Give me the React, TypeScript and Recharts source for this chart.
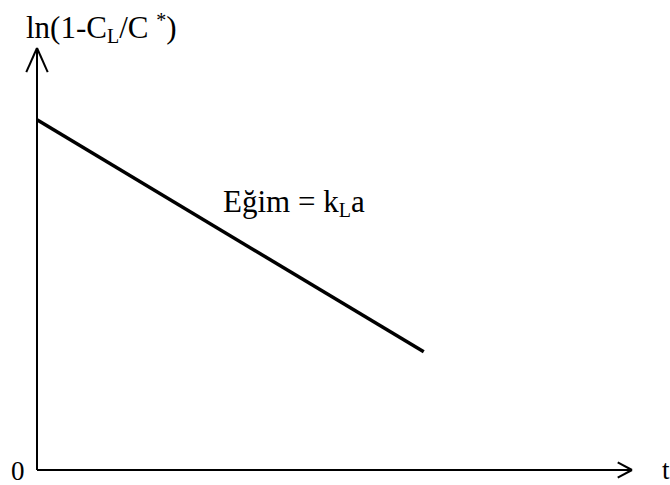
import { LineChart, Line, XAxis, YAxis, ReferenceLine } from 'recharts';

// zaman (keyfi birim) ve ln(1-CL/C*) değerleri
const tValues = [0, 6.5];
const lnValues = [8.3, 2.8];
const xMax = 10;
const yMax = 10;

const data = tValues.map((t, i) => ({ t, y: lnValues[i] }));

const FONT = '"Liberation Serif", "Times New Roman", serif';

const App = () => {
    return (
        <div style={{ position: 'absolute', left: 0, top: 0, background: '#fff' }}>
            <LineChart
                width={670}
                height={485}
                data={data}
                margin={{ top: 48, right: 38, left: 37, bottom: 15 }}
            >
                <XAxis dataKey="t" type="number" domain={[0, xMax]} height={0} tick={false} tickLine={false} axisLine={false} />
                <YAxis type="number" domain={[0, yMax]} width={0} tick={false} tickLine={false} axisLine={false} />
                {/* eksenler */}
                <ReferenceLine x={0} stroke="#000" strokeWidth={2} ifOverflow="visible" />
                <ReferenceLine y={0} stroke="#000" strokeWidth={2} ifOverflow="visible" />
                {/* ok uçları */}
                <ReferenceLine segment={[{ x: -0.18, y: 9.43 }, { x: 0, y: yMax }]} stroke="#000" strokeWidth={2} ifOverflow="visible" />
                <ReferenceLine segment={[{ x: 0.18, y: 9.43 }, { x: 0, y: yMax }]} stroke="#000" strokeWidth={2} ifOverflow="visible" />
                <ReferenceLine segment={[{ x: 9.76, y: 0.18 }, { x: xMax, y: 0 }]} stroke="#000" strokeWidth={2} ifOverflow="visible" />
                <ReferenceLine segment={[{ x: 9.76, y: -0.18 }, { x: xMax, y: 0 }]} stroke="#000" strokeWidth={2} ifOverflow="visible" />
                <Line
                    dataKey="y"
                    stroke="#000"
                    strokeWidth={3.5}
                    dot={false}
                    isAnimationActive={false}
                />
                <text x={26} y={38} fontFamily={FONT} fontSize={31} fill="#000">
                    ln(1-C
                    <tspan dy={5} fontSize={20}>L</tspan>
                    <tspan dy={-5}>/C </tspan>
                    <tspan dy={-11} fontSize={20}>*</tspan>
                    <tspan dy={11}>)</tspan>
                </text>
                <text x={223} y={212} fontFamily={FONT} fontSize={31} fill="#000">
                    Eğim = k
                    <tspan dy={5} fontSize={20}>L</tspan>
                    <tspan dy={-5}>a</tspan>
                </text>
                <text x={11} y={480} fontFamily={FONT} fontSize={27} fill="#000">0</text>
                <text x={662} y={479} fontFamily={FONT} fontSize={27} fill="#000">t</text>
            </LineChart>
        </div>
    );
};

export default App;
